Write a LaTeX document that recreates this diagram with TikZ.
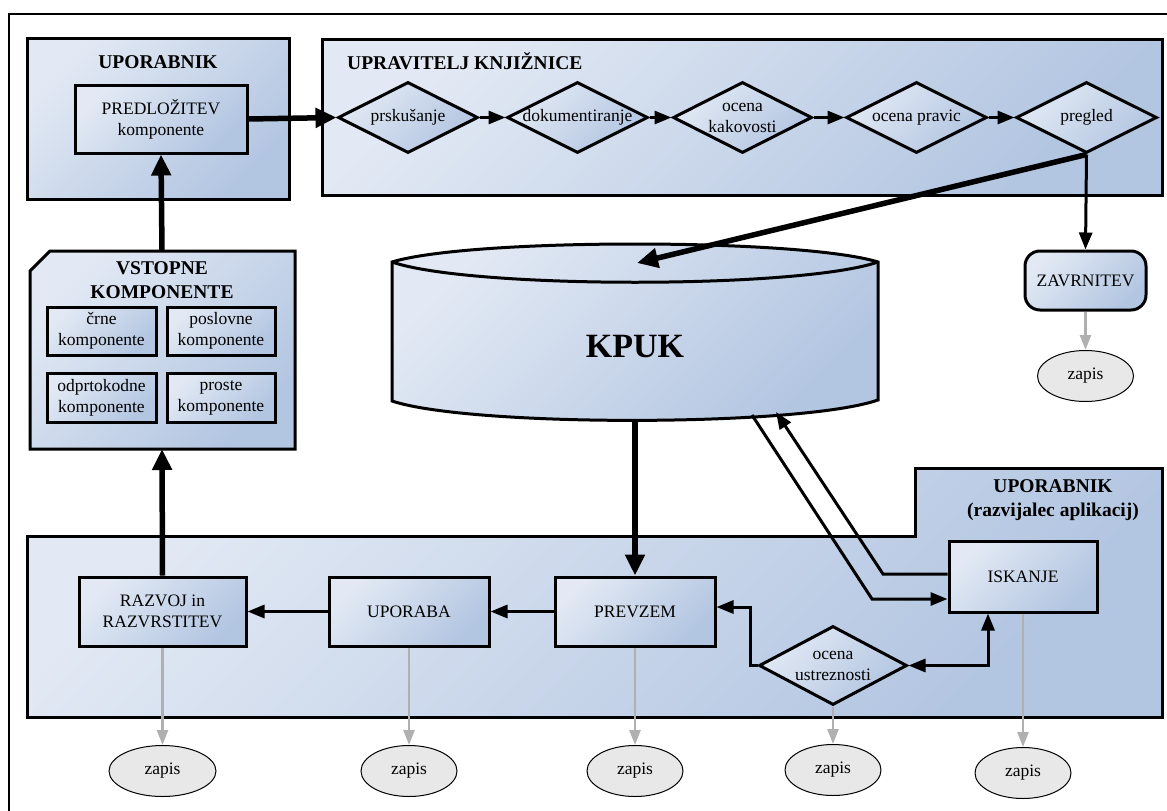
\documentclass[tikz,border=0pt]{standalone}
\usepackage{fontspec}
\setmainfont{Liberation Serif}
\usetikzlibrary{arrows.meta,shapes.geometric,calc}

\definecolor{blueLight}{HTML}{E2E9F4}
\definecolor{blueDark}{HTML}{B2C5E1}
\definecolor{zapisFill}{HTML}{E8E8E8}
\definecolor{logGray}{HTML}{B0B0B0}

\newcommand\normaltext{\fontsize{17.5}{21}\selectfont}
\newcommand\headtext{\fontsize{19.5}{24}\selectfont\bfseries}
\newcommand\kpuktext{\fontsize{34}{40}\selectfont\bfseries}
% zero-width centred block, so the diamond keeps its own size
\newcommand\zw[1]{\makebox[0pt]{\begin{tabular}{@{}c@{}}#1\end{tabular}}}

\tikzset{
  blueshade/.style={top color=blueLight, bottom color=blueDark, shading angle=45},
  region/.style={draw=black, line width=3pt, blueshade, inner sep=0pt},
  stepbox/.style={draw, line width=3pt, rectangle, inner sep=0pt, blueshade,
                  font=\normaltext, align=center},
  dia/.style={draw, line width=3pt, diamond, inner sep=0pt, blueshade,
              font=\normaltext, minimum width=141pt, minimum height=71pt},
  zapis/.style={draw, line width=1pt, ellipse, fill=zapisFill, minimum width=96pt,
                minimum height=51pt, inner sep=0pt, font=\normaltext},
  heading/.style={font=\headtext, align=center, inner sep=0pt},
  flow/.style={line width=3pt, -{Triangle[length=17pt,width=13pt]}},
  flowboth/.style={line width=3pt, {Triangle[length=17pt,width=13pt]}-{Triangle[length=17pt,width=13pt]}},
  bigflow/.style={line width=5.5pt, -{Triangle[length=21pt,width=19pt]}},
  logarrow/.style={draw=logGray, line width=2.5pt, -{Triangle[length=15pt,width=11pt]}},
}

\begin{document}
\begin{tikzpicture}[x=1pt, y=-1pt]
\clip (0,0) rectangle (1167,811);
\fill[white] (0,0) rectangle (1167,811);

% outer frame
\draw[line width=2pt] (9,14) rectangle (1172,820);

% ---------- regions ----------
\node[region, minimum width=262pt, minimum height=161pt] (userTop) at (158,118.5) {};
\node[heading] (userTopTitle) at (158,62) {UPORABNIK};

\node[region, minimum width=840pt, minimum height=156pt] (librarian) at (742,117) {};
\node[heading, anchor=west] (librarianTitle) at (347,61) {UPRAVITELJ KNJIŽNICE};

% input components (cut top-left corner)
\draw[region] (50,251) -- (295,251) -- (295,449) -- (30,449) -- (30,271) -- cycle;
\coordinate (vstopneTop) at (162,251);
\coordinate (vstopneBot) at (162,449);
\node[heading] (vstopneTitle) at (162,280) {VSTOPNE\\KOMPONENTE};

% application developer region with raised corner
\draw[region] (27,536) -- (915,536) -- (915,468) -- (1162,468) -- (1162,717) -- (27,717) -- cycle;
\node[heading] (devTitle) at (1053,500) {UPORABNIK\\(razvijalec aplikacij)};

% ---------- KPUK repository ----------
\draw[line width=3pt, blueshade]
  (392,262) .. controls (470,238) and (800,238) .. (878,262)
  -- (878,400) .. controls (800,427) and (470,427) .. (392,401) -- cycle;
\draw[line width=3pt] (878,262) .. controls (800,289) and (470,289) .. (392,262);
\node[font=\kpuktext, inner sep=0pt] (kpuk) at (635,347) {KPUK};
\coordinate (kpukTop) at (637,263);
\coordinate (kpukBot) at (635,420);
\coordinate (kpukIn) at (776,412);
\coordinate (kpukOut) at (752,415);

% ---------- nodes ----------
\node[stepbox, minimum width=172pt, minimum height=68pt] (predlozitev) at (161,119)
  {PREDLOŽITEV\\komponente};

\node[dia, minimum width=140pt] (prsk) at (408,117.5) {\zw{prskušanje}};
\node[dia] (dok) at (577.5,117.5) {\zw{dokumentiranje}};
\node[dia, minimum width=139pt] (kak) at (742.5,117.5) {\zw{ocena\\kakovosti}};
\node[dia] (pravic) at (916.5,117.5) {\zw{ocena pravic}};
\node[dia] (pregled) at (1086.5,117.5) {\zw{pregled}};

\node[stepbox, rounded corners=15pt, minimum width=121pt, minimum height=59pt]
  (zavrnitev) at (1085.5,280.5) {ZAVRNITEV};
\node[zapis] (zapisZ) at (zavrnitev |- 0,376) {zapis};

\node[stepbox, minimum width=109pt, minimum height=48pt] (crne) at (101.5,331) {črne\\komponente};
\node[stepbox, minimum width=108pt, minimum height=48pt] (poslovne) at (221,331) {poslovne\\komponente};
\node[stepbox, minimum width=109pt, minimum height=49pt] (odprte) at (101.5,397.5) {odprtokodne\\komponente};
\node[stepbox, minimum width=108pt, minimum height=49pt] (proste) at (221,397.5) {proste\\komponente};

\node[stepbox, minimum width=167pt, minimum height=69pt] (razvoj) at (162.5,611.5) {RAZVOJ in\\RAZVRSTITEV};
\node[stepbox, minimum width=160pt, minimum height=69pt] (uporaba) at (409,611.5) {UPORABA};
\node[stepbox, minimum width=160pt, minimum height=69pt] (prevzem) at (635,611.5) {PREVZEM};
\node[stepbox, minimum width=148pt, minimum height=71pt] (iskanje) at (1023,576.5) {ISKANJE};
\node[dia, minimum width=148pt, minimum height=79pt] (ustreznost) at (833,665.5) {\zw{ocena\\ustreznosti}};

\node[zapis, minimum width=107pt] (zapis1) at (razvoj |- 0,771) {zapis};
\node[zapis] (zapis2) at (uporaba |- 0,771) {zapis};
\node[zapis] (zapis3) at (prevzem |- 0,771) {zapis};
\node[zapis] (zapis4) at (ustreznost |- 0,770) {zapis};
\node[zapis] (zapis5) at (iskanje |- 0,773) {zapis};

% ---------- connectors ----------
\draw[bigflow] (predlozitev.east) -- (prsk.west);
\draw[flow] (prsk.east) -- (dok.west);
\draw[flow] (dok.east) -- (kak.west);
\draw[flow] (kak.east) -- (pravic.west);
\draw[flow] (pravic.east) -- (pregled.west);

\draw[bigflow] (pregled.south) -- (kpukTop);
\draw[flow] (pregled.south) -- (zavrnitev.north);

\draw[bigflow] (vstopneTop) -- (predlozitev.south);
\draw[bigflow] (razvoj.north) -- (vstopneBot);
\draw[bigflow] (kpukBot) -- (prevzem.north);

\draw[flow] (iskanje.west |- 0,574) -- (883,574) -- (kpukIn);
\draw[flow] (kpukOut) -- (872,599) -- (iskanje.west |- 0,599);

\draw[flow] (prevzem.west) -- (uporaba.east);
\draw[flow] (uporaba.west) -- (razvoj.east);
\draw[flow] (ustreznost.west) -- (750,665.5) |- (prevzem.east |- 0,607);
\draw[flowboth] (ustreznost.east) -| ($(iskanje.south)+(-35,0)$);

\draw[logarrow] (zavrnitev.south) -- (zapisZ.north);
\draw[logarrow] (razvoj.south) -- (zapis1.north);
\draw[logarrow] (uporaba.south) -- (zapis2.north);
\draw[logarrow] (prevzem.south) -- (zapis3.north);
\draw[logarrow] (ustreznost.south) -- (zapis4.north);
\draw[logarrow] (iskanje.south) -- (zapis5.north);
\end{tikzpicture}
\end{document}
